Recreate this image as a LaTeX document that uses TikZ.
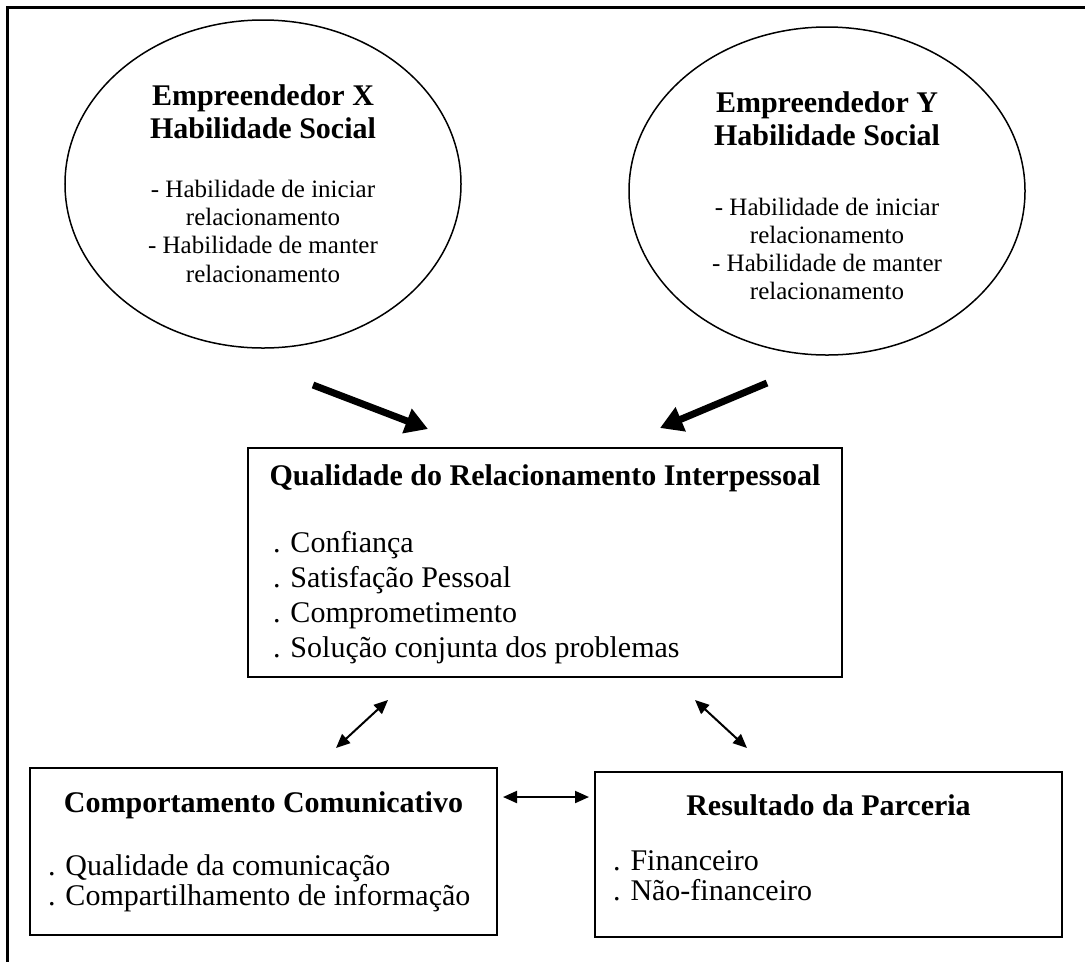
\documentclass[tikz,border=0pt]{standalone}
\usepackage{fontspec}
\setmainfont{Liberation Serif}
\usetikzlibrary{arrows.meta,shapes.geometric}
\begin{document}
\begin{tikzpicture}[x=0.4pt,y=-0.4pt,
  every node/.style={inner sep=0pt,outer sep=0pt},
  framel/.style={line width=1.2pt},
  bubble/.style={draw,ellipse,line width=0.6pt,minimum width=158.4pt,minimum height=131.2pt},
  box/.style={draw,line width=0.8pt},
  ttl/.style={font=\fontsize{12}{13.8}\selectfont\bfseries,anchor=base},
  itm/.style={font=\fontsize{12}{13.8}\selectfont,anchor=base west},
  etl/.style={font=\fontsize{12}{13.2}\selectfont\bfseries,anchor=base},
  eit/.style={font=\fontsize{10}{11.2}\selectfont,anchor=base},
  bigarrow/.style={-{Triangle[length=9pt,width=10pt]},line width=2.8pt},
  dbl/.style={{Triangle[length=5.6pt,width=4.8pt]}-{Triangle[length=5.6pt,width=4.8pt]},line width=0.8pt}]
\useasboundingbox (0,0) rectangle (1085,962);
% frame
\coordinate (fr1) at (1085,7);
\coordinate (fr2) at (7,7);
\coordinate (fr3) at (7,962);
\draw[framel] (fr1) -- (fr2) -- (fr3);
% ellipses
\node[bubble] (ex) at (263,184) {};
\node[bubble] (ey) at (827,191) {};
\node[etl] (ex1) at (263,105) {Empreendedor X};
\node[etl] (ex2) at (263,138) {Habilidade Social};
\node[eit] (ex3) at (263,197) {- Habilidade de iniciar};
\node[eit] (ex4) at (263,225) {relacionamento};
\node[eit] (ex5) at (263,253) {- Habilidade de manter};
\node[eit] (ex6) at (263,282) {relacionamento};
\node[etl] (ey1) at (827,112) {Empreendedor Y};
\node[etl] (ey2) at (827,145) {Habilidade Social};
\node[eit] (ey3) at (827,215) {- Habilidade de iniciar};
\node[eit] (ey4) at (827,243) {relacionamento};
\node[eit] (ey5) at (827,271) {- Habilidade de manter};
\node[eit] (ey6) at (827,299) {relacionamento};
% central box
\node[box,minimum width=237.6pt,minimum height=91.6pt] (q) at (545,562.5) {};
\node[ttl] (q0) at (545,485) {Qualidade do Relacionamento Interpessoal};
\node[itm] (q1) at (273,552) {. Confiança};
\node[itm] (q2) at (273,587) {. Satisfação Pessoal};
\node[itm] (q3) at (273,622) {. Comprometimento};
\node[itm] (q4) at (273,657) {. Solução conjunta dos problemas};
% bottom boxes
\node[box,minimum width=186.8pt,minimum height=66.8pt] (c) at (263.5,851.5) {};
\node[ttl] (c0) at (263.5,812) {Comportamento Comunicativo};
\node[itm] (c1) at (48,875) {. Qualidade da comunicação};
\node[itm] (c2) at (48,905) {. Compartilhamento de informação};
\node[box,minimum width=186.8pt,minimum height=66pt] (r) at (828.5,854.5) {};
\node[ttl] (r0) at (828.5,815) {Resultado da Parceria};
\node[itm] (r1) at (613,870) {. Financeiro};
\node[itm] (r2) at (613,900) {. Não-financeiro};
% arrows
\coordinate (ax1) at (313,385);
\coordinate (ax2) at (428,429);
\coordinate (ay1) at (767,383);
\coordinate (ay2) at (660,428);
\draw[bigarrow] (ax1) -- (ax2);
\draw[bigarrow] (ay1) -- (ay2);
\coordinate (d1a) at (336,748);
\coordinate (d1b) at (388,700);
\coordinate (d2a) at (695,700);
\coordinate (d2b) at (747,748);
\coordinate (d3a) at (503,797);
\coordinate (d3b) at (589,797);
\draw[dbl] (d1a) -- (d1b);
\draw[dbl] (d2a) -- (d2b);
\draw[dbl] (d3a) -- (d3b);
\end{tikzpicture}
\end{document}
